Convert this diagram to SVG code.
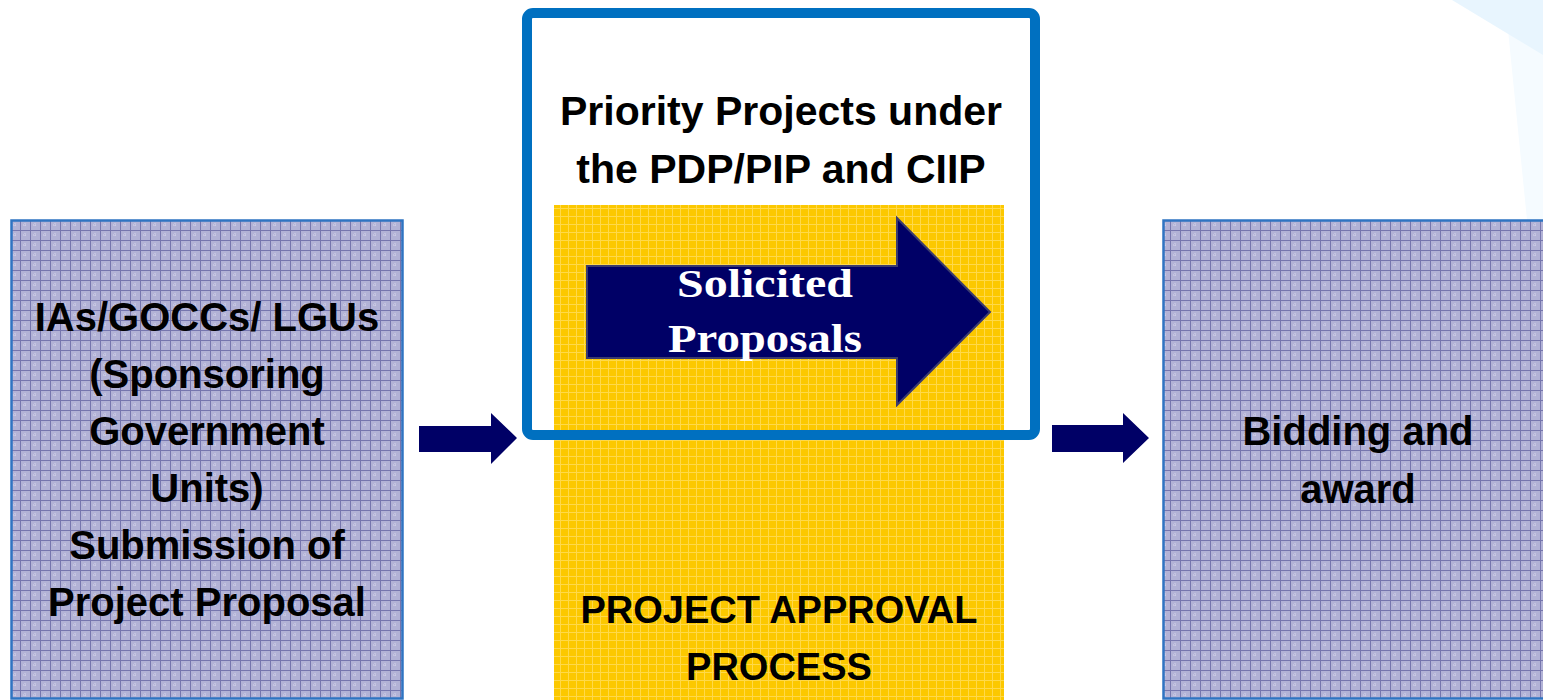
<svg xmlns="http://www.w3.org/2000/svg" width="1543" height="700" viewBox="0 0 1543 700">
  <defs>
    <pattern id="gridBlue" width="10" height="10" patternUnits="userSpaceOnUse">
      <rect width="10" height="10" fill="#b2b2d6"/>
      <path d="M0 0.5H10M0.5 0V10" stroke="#7676ae" stroke-width="1"/>
      <path d="M3 5H7M5 3V7" stroke="#d4d4ea" stroke-width="1" stroke-dasharray="1 1"/>
    </pattern>
    <pattern id="gridYellow" width="8" height="8" patternUnits="userSpaceOnUse">
      <rect width="8" height="8" fill="#fcc800"/>
      <path d="M0 0.5H8M0.5 0V8" stroke="#ffd94a" stroke-width="1"/>
    </pattern>
    <style>
      .box { fill: url(#gridBlue); stroke: #2f74c2; stroke-width: 2.5; }
      .lbl { font-family: "Liberation Sans", Arial, sans-serif; font-weight: bold; fill: #000; text-anchor: middle; }
      .big { font-size: 40px; }
      .mid { font-size: 38px; }
      .hdr { font-size: 41px; }
      .sol { font-family: "Liberation Serif", "Times New Roman", serif; font-weight: bold; font-size: 40px; fill: #fff; text-anchor: middle; }
      .conn { fill: #000066; }
    </style>
  </defs>
  <rect width="1543" height="700" fill="#ffffff"/>
  <g id="background">
    <polygon points="1505,0 1543,0 1543,220 1527,220" fill="#f5fbff"/>
    <polygon points="1452,0 1543,0 1543,55" fill="#e8f5fe"/>
  </g>

  <g id="node-sponsors">
    <rect class="box" x="11.5" y="220.5" width="391" height="478"/>
    <text class="lbl big" x="207" y="331">IAs/GOCCs/ LGUs</text>
    <text class="lbl big" x="207" y="388">(Sponsoring</text>
    <text class="lbl big" x="207" y="445">Government</text>
    <text class="lbl big" x="207" y="502">Units)</text>
    <text class="lbl big" x="207" y="559">Submission of</text>
    <text class="lbl big" x="207" y="616">Project Proposal</text>
  </g>

  <g id="node-approval">
    <rect x="554" y="205" width="450" height="495" fill="url(#gridYellow)"/>
    <text class="lbl mid" x="779" y="623">PROJECT APPROVAL</text>
    <text class="lbl mid" x="779" y="680">PROCESS</text>
  </g>

  <g id="node-priority">
    <rect x="527" y="13" width="508" height="422" rx="6" fill="none" stroke="#0070c0" stroke-width="10"/>
    <text class="lbl hdr" x="781" y="125">Priority Projects under</text>
    <text class="lbl hdr" x="781" y="183">the PDP/PIP and CIIP</text>
  </g>

  <g id="node-solicited">
    <polygon points="587,266 897,266 897,218 990,312 897,405 897,358 587,358" fill="#000066" stroke="#3b3b6e" stroke-width="2"/>
    <text class="sol" x="765" y="297" textLength="176" lengthAdjust="spacingAndGlyphs">Solicited</text>
    <text class="sol" x="765" y="352" textLength="194" lengthAdjust="spacingAndGlyphs">Proposals</text>
  </g>

  <g id="node-bidding">
    <rect class="box" x="1163.5" y="220.5" width="390" height="478"/>
    <text class="lbl big" x="1358" y="445">Bidding and</text>
    <text class="lbl big" x="1358" y="503">award</text>
  </g>

  <g id="connectors">
    <polygon class="conn" points="419,426 491,426 491,413 517,438 491,464 491,452 419,452"/>
    <polygon class="conn" points="1052,425 1123,425 1123,413 1149,438 1123,463 1123,452 1052,452"/>
  </g>
</svg>
